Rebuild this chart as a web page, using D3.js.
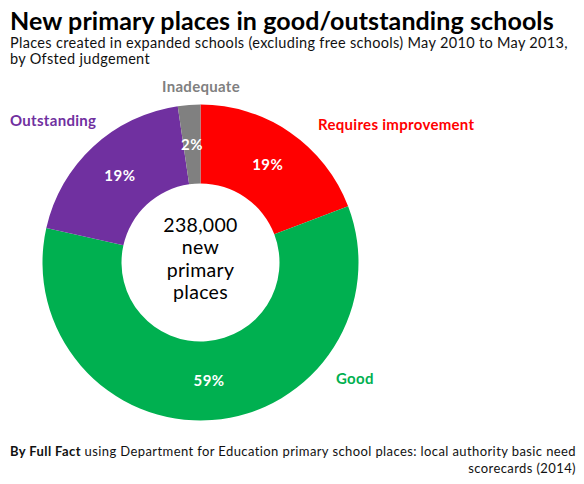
<!DOCTYPE html>
<html>
<head>
<meta charset="utf-8">
<script src="https://cdn.jsdelivr.net/npm/d3@7"></script>
<style>
  body { margin: 0; background: #fff; }
  svg { display: block; font-family: Lato, "Noto Sans", sans-serif; }
</style>
</head>
<body>
<svg></svg>
<script>
// данные (доли в процентах)
let categories = ["Requires improvement", "Good", "Outstanding", "Inadequate"];
let values = [19.2, 59.3, 19.2, 2.3];
let valueLabels = ["19%", "59%", "19%", "2%"];
let colors = ["#ff0000", "#00b050", "#7030a0", "#808080"];
let centerLines = ["238,000", "new", "primary", "places"];

// положения подписей категорий: [x, y, anchor]
let labelPos = [[318, 130, "start"], [336, 384, "start"], [10, 126, "start"], [201, 92, "middle"]];

let width = 584;
let height = 484;
let cx = 200.5;
let cy = 262.5;
let outerR = 158;
let innerR = 79;

let svg = d3.select("svg")
    .attr("width", width)
    .attr("height", height);

svg.append("rect").attr("width", width).attr("height", height).attr("fill", "#fff");

// заголовок
svg.append("text")
    .attr("x", 10).attr("y", 30)
    .attr("font-size", 25).attr("font-weight", "bold")
    .attr("letter-spacing", 0.1)
    .text("New primary places in good/outstanding schools");

let sub = svg.append("text")
    .attr("font-size", 14.5)
    .attr("letter-spacing", 0.32)
    .attr("fill", "#111");
sub.append("tspan").attr("x", 10).attr("y", 48)
    .text("Places created in expanded schools (excluding free schools) May 2010 to May 2013,");
sub.append("tspan").attr("x", 10).attr("y", 64)
    .text("by Ofsted judgement");

// кольцевая диаграмма
let pie = d3.pie().sort(null).value(d => d);
let arcs = pie(values);
let arc = d3.arc().innerRadius(innerR).outerRadius(outerR);

let g = svg.append("g").attr("transform", `translate(${cx}, ${cy})`);

g.selectAll("path.slice")
    .data(arcs)
    .enter()
    .append("path")
    .attr("class", "slice")
    .attr("d", arc)
    .attr("fill", (d, i) => colors[i]);

g.selectAll("text.pct")
    .data(arcs)
    .enter()
    .append("text")
    .attr("class", "pct")
    .attr("transform", d => `translate(${arc.centroid(d)})`)
    .attr("dy", "0.35em")
    .attr("text-anchor", "middle")
    .attr("font-size", 15)
    .attr("font-weight", "bold")
    .attr("letter-spacing", 0.5)
    .attr("fill", "#fff")
    .text((d, i) => valueLabels[i]);

// текст в центре
g.selectAll("text.center")
    .data(centerLines)
    .enter()
    .append("text")
    .attr("class", "center")
    .attr("text-anchor", "middle")
    .attr("x", 0)
    .attr("y", (d, i) => -31 + i * 22.5)
    .attr("font-size", 19.5)
    .attr("letter-spacing", 0.3)
    .attr("fill", "#000")
    .text(d => d);

// подписи категорий
svg.selectAll("text.cat")
    .data(categories)
    .enter()
    .append("text")
    .attr("class", "cat")
    .attr("x", (d, i) => labelPos[i][0])
    .attr("y", (d, i) => labelPos[i][1])
    .attr("text-anchor", (d, i) => labelPos[i][2])
    .attr("font-size", 15)
    .attr("font-weight", "bold")
    .attr("letter-spacing", 0.3)
    .attr("fill", (d, i) => colors[i])
    .text(d => d);

// источник
let src = svg.append("text")
    .attr("font-size", 13)
    .attr("letter-spacing", 0.4)
    .attr("text-anchor", "end")
    .attr("fill", "#111");
let line1 = src.append("tspan").attr("x", 576).attr("y", 456);
line1.append("tspan").attr("font-weight", "bold").text("By Full Fact");
line1.append("tspan").text(" using Department for Education primary school places: local authority basic need");
src.append("tspan").attr("x", 576).attr("y", 473).text("scorecards (2014)");
</script>
</body>
</html>
